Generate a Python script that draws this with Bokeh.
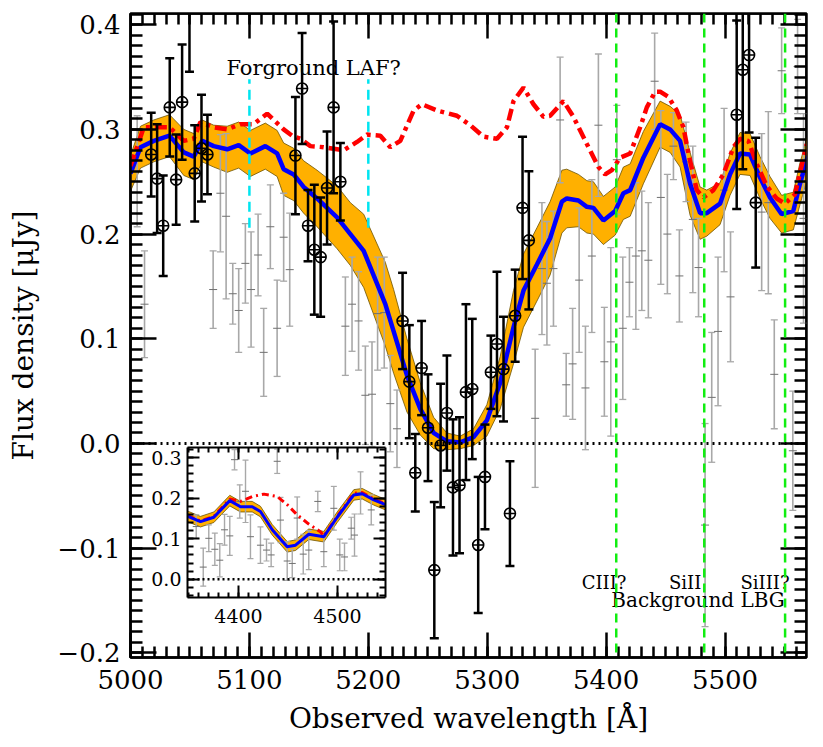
from bokeh.plotting import figure
from bokeh.models import Range1d, LinearAxis, SingleIntervalTicker, CustomJSTickFormatter, Span
from bokeh.embed import file_html
from bokeh.resources import INLINE
from bokeh.core.properties import value

FONT = "DejaVu Serif"

# ---------------- data ----------------
# foreground galaxy spectrum (black, circles)
fg_wave = [5017.4, 5022.4, 5027.5, 5033.0, 5038.4, 5043.4, 5049.6, 5054.0, 5059.7, 5064.7,
           5138.7, 5144.3, 5149.3, 5154.6, 5159.9, 5165.3, 5170.8, 5176.5,
           5228.8, 5234.5, 5239.5, 5244.8, 5250.2, 5255.5, 5260.8, 5266.1, 5271.2, 5276.7,
           5282.1, 5287.4, 5292.4, 5298.1, 5303.1, 5308.2, 5313.7, 5319.1, 5323.5, 5329.7, 5335.0,
           5509.8, 5514.9, 5520.2, 5525.8]
fg_flux = [0.276, 0.253, 0.208, 0.321, 0.252, 0.326, 0.430, 0.258, 0.282, 0.276,
           0.275, 0.339, 0.208, 0.185, 0.178, 0.244, 0.321, 0.250,
           0.117, 0.059, -0.028, 0.072, 0.015, -0.121, -0.002, 0.029, -0.042, -0.040,
           0.049, 0.052, -0.097, -0.032, 0.068, 0.095, 0.071, -0.067, 0.122, 0.225, 0.194,
           0.314, 0.357, 0.371, 0.230]
fg_err = [0.040, 0.052, 0.048, 0.047, 0.043, 0.055, 0.075, 0.046, 0.051, 0.038,
          0.056, 0.053, 0.034, 0.062, 0.057, 0.054, 0.082, 0.037,
          0.046, 0.054, 0.037, 0.045, 0.051, 0.065, 0.059, 0.055, 0.065, 0.065,
          0.084, 0.067, 0.065, 0.050, 0.035, 0.069, 0.050, 0.050, 0.044, 0.068, 0.066,
          0.090, 0.095, 0.074, 0.062]

# background LBG spectrum (grey)
bg_wave = [5005.6, 5011.8, 5069.5, 5075.6, 5080.4, 5086.0, 5091.0, 5096.6, 5101.4, 5107.3,
           5112.0, 5117.6, 5123.3, 5128.8, 5133.9, 5180.7, 5186.3, 5191.8, 5197.5, 5203.1,
           5207.8, 5213.4, 5218.5, 5224.1, 5340.3, 5346.0, 5350.2, 5355.7, 5361.3, 5366.4,
           5371.8, 5377.3, 5382.6, 5388.0, 5393.5, 5398.5, 5403.9, 5409.0, 5414.0, 5419.6,
           5425.0, 5430.0, 5435.5, 5440.8, 5446.0, 5451.5, 5456.6, 5461.6, 5467.2, 5472.9,
           5477.7, 5483.2, 5488.8, 5494.1, 5499.2, 5504.6, 5530.8, 5536.4, 5541.4, 5547.6,
           5557.0, 5561.0, 5566.0]
bg_flux = [0.260, 0.133, 0.147, 0.239, 0.217, 0.143, 0.127, 0.172, 0.147, 0.180,
           0.087, 0.207, 0.110, 0.197, 0.166, 0.112, 0.133, 0.117, 0.046, 0.047,
           0.124, 0.125, 0.038, 0.014, 0.024, 0.167, 0.153, 0.167, 0.309, 0.056,
           0.076, 0.156, 0.053, 0.179, 0.304, 0.078, 0.097, 0.271, 0.110, 0.154,
           0.179, 0.184, 0.175, 0.346, 0.235, 0.200, 0.284, 0.160, 0.269, 0.214,
           0.168, -0.078, 0.044, 0.107, 0.242, 0.140, 0.221, 0.230, 0.066, 0.356,
           -0.007, 0.360, 0.215]
bg_err = [0.053, 0.051, 0.037, 0.056, 0.079, 0.029, 0.040, 0.038, 0.055, 0.039,
          0.042, 0.040, 0.046, 0.042, 0.054, 0.047, 0.045, 0.047, 0.047, 0.050,
          0.054, 0.053, 0.046, 0.037, 0.066, 0.063, 0.059, 0.055, 0.060, 0.030,
          0.053, 0.069, 0.059, 0.073, 0.068, 0.052, 0.090, 0.052, 0.068, 0.033,
          0.070, 0.057, 0.055, 0.046, 0.083, 0.057, 0.032, 0.044, 0.038, 0.070,
          0.047, 0.097, 0.062, 0.071, 0.078, 0.062, 0.075, 0.087, 0.052, 0.041,
          0.057, 0.045, 0.100]

# absorbed model (blue) with uncertainty band (orange)
mod_wave = [5000.0, 5008.4, 5019.6, 5032.8, 5044.8, 5053.2, 5060.3, 5070.0, 5081.3, 5091.0,
            5100.8, 5113.4, 5123.3, 5128.8, 5137.2, 5145.6, 5156.9, 5173.7, 5184.9, 5196.1,
            5214.3, 5221.3, 5232.5, 5243.7, 5254.9, 5266.1, 5277.3, 5288.5, 5299.7, 5310.9,
            5322.1, 5330.5, 5341.8, 5352.9, 5362.8, 5366.9, 5376.7, 5383.8, 5389.3, 5397.7,
            5407.6, 5414.5, 5420.2, 5431.3, 5445.4, 5453.8, 5462.2, 5470.6, 5479.0, 5484.6,
            5495.8, 5504.2, 5512.6, 5521.0, 5529.4, 5537.8, 5547.6, 5557.4, 5563.0, 5569.7]
mod_flux = [0.258, 0.283, 0.289, 0.294, 0.278, 0.274, 0.289, 0.284, 0.281, 0.285,
            0.277, 0.284, 0.277, 0.262, 0.257, 0.245, 0.234, 0.216, 0.200, 0.184,
            0.133, 0.107, 0.065, 0.033, 0.010, 0.002, 0.001, 0.006, 0.022, 0.058,
            0.111, 0.146, 0.171, 0.196, 0.231, 0.234, 0.232, 0.226, 0.225, 0.213,
            0.222, 0.239, 0.242, 0.273, 0.305, 0.300, 0.289, 0.248, 0.220, 0.220,
            0.229, 0.257, 0.277, 0.276, 0.254, 0.235, 0.219, 0.222, 0.248, 0.275]
mod_err = [0.017, 0.020, 0.020, 0.020, 0.022, 0.022, 0.020, 0.020, 0.022, 0.022,
           0.022, 0.022, 0.022, 0.025, 0.025, 0.025, 0.027, 0.030, 0.030, 0.035,
           0.040, 0.040, 0.035, 0.025, 0.015, 0.008, 0.006, 0.008, 0.015, 0.025,
           0.035, 0.035, 0.035, 0.035, 0.030, 0.028, 0.025, 0.025, 0.025, 0.023,
           0.023, 0.025, 0.025, 0.025, 0.022, 0.022, 0.025, 0.030, 0.025, 0.022,
           0.020, 0.020, 0.020, 0.020, 0.020, 0.020, 0.018, 0.018, 0.020, 0.020]

# unabsorbed model (red dash-dot)
unabs_wave = [5000.0, 5011.2, 5032.8, 5044.8, 5053.2, 5058.8, 5070.0, 5081.3, 5092.4, 5103.6,
              5114.9, 5128.8, 5135.9, 5142.9, 5151.3, 5162.4, 5179.2, 5190.5, 5198.9, 5210.1,
              5218.5, 5226.9, 5238.1, 5245.1, 5257.7, 5274.5, 5285.7, 5296.9, 5308.2, 5316.6,
              5322.1, 5330.5, 5338.9, 5347.3, 5352.9, 5364.1, 5372.5, 5383.8, 5393.5, 5399.2,
              5404.8, 5411.8, 5420.2, 5428.6, 5434.2, 5441.2, 5445.4, 5452.4, 5459.4, 5465.0,
              5469.2, 5476.2, 5481.8, 5490.2, 5498.6, 5507.0, 5512.6, 5519.6, 5526.6, 5535.0,
              5543.4, 5550.4, 5558.8, 5568.7]
unabs_flux = [0.265, 0.302, 0.302, 0.289, 0.291, 0.307, 0.302, 0.300, 0.305, 0.305,
              0.315, 0.300, 0.294, 0.291, 0.284, 0.283, 0.280, 0.288, 0.295, 0.294,
              0.283, 0.289, 0.318, 0.324, 0.318, 0.313, 0.304, 0.293, 0.291, 0.302,
              0.327, 0.340, 0.324, 0.312, 0.313, 0.327, 0.312, 0.286, 0.264, 0.257,
              0.261, 0.273, 0.277, 0.302, 0.321, 0.336, 0.336, 0.331, 0.318, 0.302,
              0.277, 0.242, 0.235, 0.242, 0.257, 0.283, 0.291, 0.289, 0.267, 0.246,
              0.234, 0.229, 0.238, 0.286]

# inset (lower wavelengths)
in_mod_wave = [4348.8, 4361.6, 4375.1, 4391.2, 4402.0, 4413.9, 4422.2, 4434.1, 4449.2,
               4457.6, 4471.0, 4486.2, 4499.7, 4516.5, 4525.0, 4536.7, 4548.5]
in_mod_flux = [0.155, 0.142, 0.153, 0.194, 0.179, 0.179, 0.167, 0.122, 0.080,
               0.084, 0.111, 0.105, 0.153, 0.208, 0.211, 0.196, 0.184]
in_unabs_wave = [4348.8, 4361.6, 4375.1, 4391.2, 4402.0, 4413.9, 4425.7, 4439.1, 4449.2,
                 4459.3, 4471.0, 4482.8, 4486.2, 4499.7, 4516.5, 4525.0, 4536.7, 4548.5]
in_unabs_flux = [0.157, 0.144, 0.155, 0.198, 0.192, 0.204, 0.210, 0.204, 0.184,
                 0.159, 0.136, 0.117, 0.107, 0.155, 0.212, 0.214, 0.198, 0.186]
in_band_err = 0.013
in_bg_wave = [4357.3, 4364.4, 4370.0, 4376.1, 4381.1, 4385.9, 4391.2, 4396.0, 4401.3, 4407.1,
              4412.1, 4422.2, 4428.3, 4433.0, 4439.1, 4442.4, 4449.2, 4454.3, 4459.3, 4465.4,
              4471.0, 4480.1, 4486.2, 4496.3, 4502.3, 4507.1, 4513.9, 4517.2, 4523.3, 4534.1]
in_bg_flux = [0.130, 0.030, 0.101, 0.074, 0.047, 0.122, 0.107, 0.295, 0.192, 0.217,
              0.105, 0.084, 0.072, 0.060, 0.291, 0.146, 0.045, 0.039, 0.151, 0.062,
              0.072, 0.192, 0.068, 0.175, 0.060, 0.055, 0.126, 0.109, 0.213, 0.171]
in_bg_err = [0.029, 0.047, 0.033, 0.040, 0.041, 0.038, 0.048, 0.025, 0.041, 0.077,
             0.054, 0.045, 0.027, 0.029, 0.030, 0.056, 0.048, 0.035, 0.052, 0.049,
             0.048, 0.025, 0.037, 0.054, 0.039, 0.034, 0.027, 0.052, 0.052, 0.037]

laf_lines = [5100.0, 5200.0]
lbg_lines = [5408.5, 5482.5, 5550.5]

# ---------------- layout ----------------
X0, X1 = 5000.0, 5568.5
Y0, Y1 = -0.2045, 0.4107
W, H = 815, 745
ML, MR, MT, MB = 130, 9, 13, 88
FW, FH = W - ML - MR, H - MT - MB

# inset box in frame pixels
IL, IR, IT, IB = 57, 255, 434, 584
IX0, IX1 = 4348.5, 4548.5
IY0, IY1 = -0.045, 0.325
sx = (IX1 - IX0) / (IR - IL)
sy = (IY1 - IY0) / (IB - IT)
ix_start = IX0 - IL * sx
iy_start = IY0 - (FH - IB) * sy

p = figure(width=W, height=H, x_range=Range1d(X0, X1), y_range=Range1d(Y0, Y1),
           output_backend="svg", toolbar_location=None,
           x_axis_type=None, y_axis_type=None,
           min_border_left=ML, min_border_right=MR, min_border_top=MT, min_border_bottom=MB)
p.extra_x_ranges = {"ix": Range1d(ix_start, ix_start + FW * sx)}
p.extra_y_ranges = {"iy": Range1d(iy_start, iy_start + FH * sy)}
p.outline_line_color = "black"
p.outline_line_width = 2.5
p.background_fill_color = "white"
p.border_fill_color = "white"

def style_axis(ax, major_in, minor_in, width):
    ax.major_tick_in = major_in
    ax.major_tick_out = 0
    ax.minor_tick_in = minor_in
    ax.minor_tick_out = 0
    ax.major_tick_line_width = width
    ax.minor_tick_line_width = width
    ax.axis_line_width = width
    ax.major_tick_line_color = "black"
    ax.minor_tick_line_color = "black"
    ax.axis_line_color = "black"
    ax.major_label_text_font = FONT
    ax.axis_label_text_font = FONT
    ax.axis_label_text_font_style = "normal"
    ax.major_label_text_color = "black"
    ax.axis_label_text_color = "black"

blank = CustomJSTickFormatter(code="return '';")
yfmt = CustomJSTickFormatter(code="""
if (Math.abs(tick) < 1e-9) return '0.0';
return (tick < 0 ? '\\u2212' : '') + Math.abs(tick).toFixed(1);
""")
xfmt = CustomJSTickFormatter(code="return Math.round(tick).toString();")

# main axes
xb = LinearAxis(ticker=SingleIntervalTicker(interval=100, num_minor_ticks=10), formatter=xfmt,
                axis_label="Observed wavelength [Å]")
style_axis(xb, 25, 11, 2.5)
xb.major_label_text_font_size = "26px"
xb.axis_label_text_font_size = "28px"
xb.major_label_standoff = 12
xb.axis_label_standoff = 10
p.add_layout(xb, "below")

yl = LinearAxis(ticker=SingleIntervalTicker(interval=0.1, num_minor_ticks=10), formatter=yfmt,
                axis_label="Flux density [μJy]")
style_axis(yl, 26, 12, 2.5)
yl.major_label_text_font_size = "26px"
yl.axis_label_text_font_size = "28px"
yl.major_label_standoff = 10
yl.axis_label_standoff = 14
p.add_layout(yl, "left")

xt = LinearAxis(ticker=SingleIntervalTicker(interval=100, num_minor_ticks=10), formatter=blank,
                fixed_location=Y1)
style_axis(xt, 25, 11, 2.5)
p.add_layout(xt, "above")

yr = LinearAxis(ticker=SingleIntervalTicker(interval=0.1, num_minor_ticks=10), formatter=blank,
                fixed_location=X1)
style_axis(yr, 26, 12, 2.5)
p.add_layout(yr, "right")

# ---------------- main plot glyphs ----------------
band_lo = [m - e for m, e in zip(mod_flux, mod_err)]
band_hi = [m + e for m, e in zip(mod_flux, mod_err)]
p.varea(x=mod_wave, y1=band_lo, y2=band_hi, fill_color="#ffb000")
p.line(mod_wave, band_lo, line_color="#6b5200", line_width=0.8)
p.line(mod_wave, band_hi, line_color="#6b5200", line_width=0.8)

GREY = "#a8a8a8"
bg_lo = [f - e for f, e in zip(bg_flux, bg_err)]
bg_hi = [f + e for f, e in zip(bg_flux, bg_err)]
p.segment(x0=bg_wave, y0=bg_lo, x1=bg_wave, y1=bg_hi, line_color=GREY, line_width=1.6)
p.scatter(bg_wave, bg_lo, marker="dash", size=7, line_color=GREY, line_width=1.3)
p.scatter(bg_wave, bg_hi, marker="dash", size=7, line_color=GREY, line_width=1.3)
p.scatter(bg_wave, bg_flux, marker="dash", size=8, line_color="#707070", line_width=1)

p.line(mod_wave, mod_flux, line_color="#0000ff", line_width=4.5)
p.line(unabs_wave, unabs_flux, line_color="#ff0000", line_width=4.5, line_dash="12 5 4 5")

p.segment(x0=laf_lines, y0=[0.206] * len(laf_lines), x1=laf_lines, y1=[0.348] * len(laf_lines),
          line_color="#00e5f0", line_width=2.5, line_dash="10 6")
for xl in lbg_lines:
    p.add_layout(Span(location=xl, dimension="height", line_color="#11ee11",
                      line_width=2.5, line_dash="9 6"))
p.add_layout(Span(location=0, dimension="width", line_color="black", line_width=3,
                  line_dash="2 4"))

fg_lo = [f - e for f, e in zip(fg_flux, fg_err)]
fg_hi = [f + e for f, e in zip(fg_flux, fg_err)]
p.segment(x0=fg_wave, y0=fg_lo, x1=fg_wave, y1=fg_hi, line_color="black", line_width=2.5)
p.scatter(fg_wave, fg_lo, marker="dash", size=9, line_color="black", line_width=2.5)
p.scatter(fg_wave, fg_hi, marker="dash", size=9, line_color="black", line_width=2.5)
p.scatter(fg_wave, fg_flux, marker="circle_cross", size=11, fill_color=None,
          line_color="black", line_width=1.6)

# texts
p.text(x=[5154], y=[0.359], text=["Forground LAF?"], text_font=value(FONT),
       text_font_size="21px", text_align="center", text_baseline="alphabetic", text_color="black")
p.text(x=[5398.3, 5466.4, 5533.6], y=[-0.1327] * 3, text=["CIII?", "SiII", "SiIII?"],
       text_font=value(FONT), text_font_size="18px", text_align="center",
       text_baseline="alphabetic", text_color="black")
p.text(x=[5477.3], y=[-0.150], text=["Background LBG"], text_font=value(FONT),
       text_font_size="20px", text_align="center", text_baseline="alphabetic", text_color="black")

# ---------------- inset ----------------
R = dict(x_range_name="ix", y_range_name="iy")
p.quad(left=[IX0], right=[IX1], bottom=[IY0], top=[IY1], fill_color="white", line_color=None, **R)
ib_lo = [m - in_band_err for m in in_mod_flux]
ib_hi = [m + in_band_err for m in in_mod_flux]
p.varea(x=in_mod_wave, y1=ib_lo, y2=ib_hi, fill_color="#ffb000", **R)
p.line(in_mod_wave, ib_lo, line_color="#6b5200", line_width=0.8, **R)
p.line(in_mod_wave, ib_hi, line_color="#6b5200", line_width=0.8, **R)
ibg_lo = [f - e for f, e in zip(in_bg_flux, in_bg_err)]
ibg_hi = [f + e for f, e in zip(in_bg_flux, in_bg_err)]
p.segment(x0=in_bg_wave, y0=ibg_lo, x1=in_bg_wave, y1=ibg_hi, line_color=GREY, line_width=1.4, **R)
p.scatter(in_bg_wave, ibg_lo, marker="dash", size=6, line_color=GREY, line_width=1.2, **R)
p.scatter(in_bg_wave, ibg_hi, marker="dash", size=6, line_color=GREY, line_width=1.2, **R)
p.scatter(in_bg_wave, in_bg_flux, marker="dash", size=7, line_color="#707070", line_width=1, **R)
p.line(in_unabs_wave, in_unabs_flux, line_color="#ff0000", line_width=3, line_dash="7 4 2 4", **R)
p.line(in_mod_wave, in_mod_flux, line_color="#0000ff", line_width=3, **R)
p.segment(x0=[IX0], y0=[0], x1=[IX1], y1=[0], line_color="black", line_width=2.5,
          line_dash="2 3", **R)

ixb = LinearAxis(ticker=SingleIntervalTicker(interval=100, num_minor_ticks=10), formatter=xfmt,
                 fixed_location=IY0, bounds=(IX0, IX1), **R)
style_axis(ixb, 12, 5, 2)
ixb.major_label_text_font_size = "19px"
ixb.major_label_standoff = 11
p.add_layout(ixb, "below")
iyl = LinearAxis(ticker=SingleIntervalTicker(interval=0.1, num_minor_ticks=5), formatter=yfmt,
                 fixed_location=IX0, bounds=(IY0, IY1), **R)
style_axis(iyl, 12, 6, 2)
iyl.major_label_text_font_size = "19px"
iyl.major_label_standoff = 6
p.add_layout(iyl, "left")
ixt = LinearAxis(ticker=SingleIntervalTicker(interval=100, num_minor_ticks=10), formatter=blank,
                 fixed_location=IY1, bounds=(IX0, IX1), **R)
style_axis(ixt, 12, 5, 2)
p.add_layout(ixt, "above")
iyr = LinearAxis(ticker=SingleIntervalTicker(interval=0.1, num_minor_ticks=5), formatter=blank,
                 fixed_location=IX1, bounds=(IY0, IY1), **R)
style_axis(iyr, 12, 6, 2)
p.add_layout(iyr, "right")

open("out.html", "w").write(file_html(p, INLINE))
